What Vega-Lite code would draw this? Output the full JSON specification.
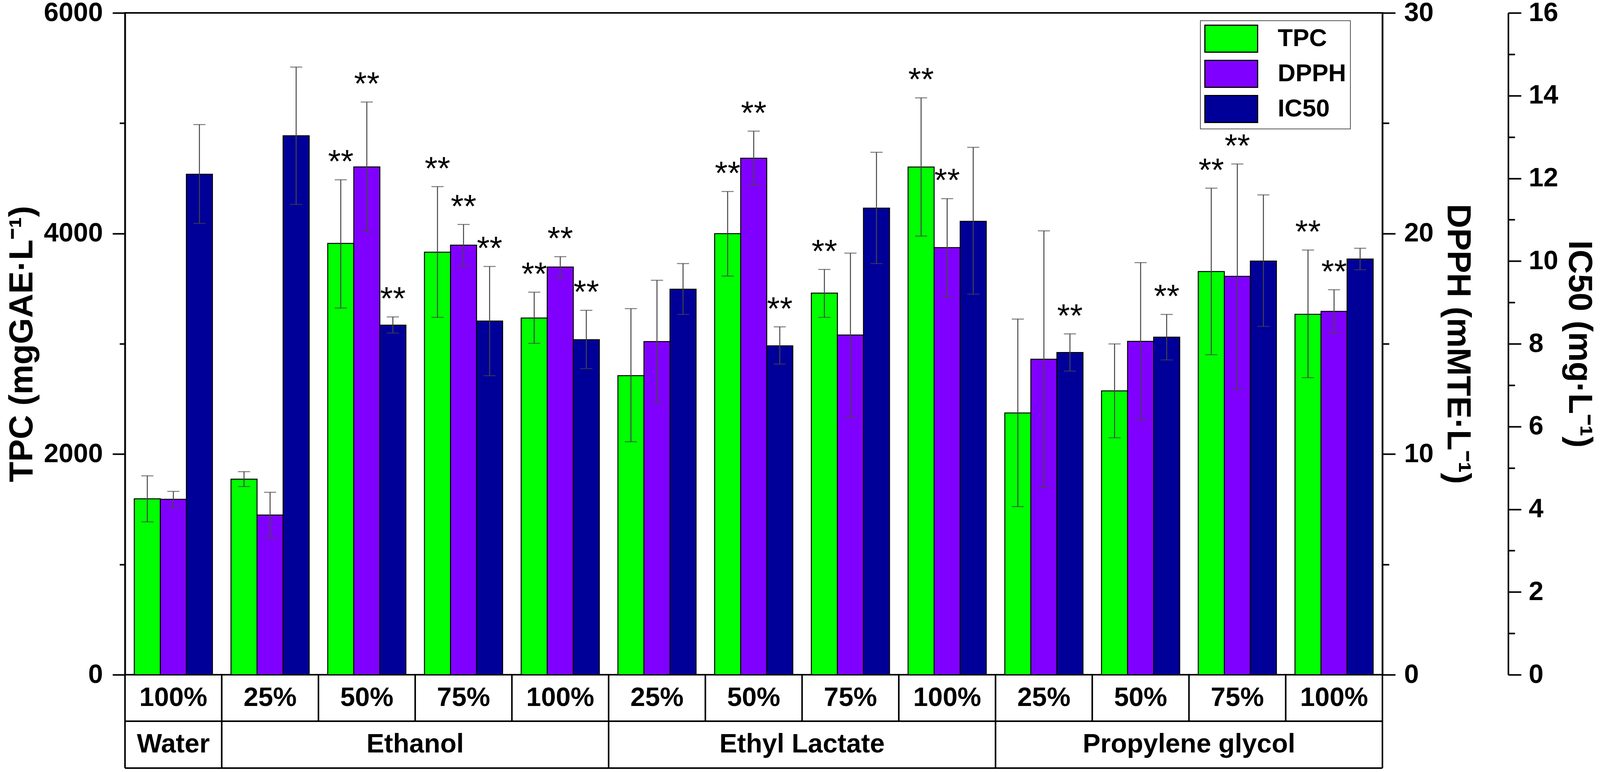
{
  "$schema": "https://vega.github.io/schema/vega-lite/v6.json",
  "width": 3219,
  "height": 1694,
  "autosize": {"type": "none"},
  "padding": {"left": 320, "top": 33, "right": 561, "bottom": 249},
  "background": "white",
  "config": {
    "view": {"stroke": "black", "strokeWidth": 4},
    "font": "Liberation Sans",
    "axis": {
      "domainColor": "black", "domainWidth": 4, "tickColor": "black", "tickWidth": 4,
      "labelFont": "Liberation Sans", "labelFontWeight": "bold", "labelFontSize": 68, "labelColor": "black",
      "titleFont": "Liberation Sans", "titleFontWeight": "bold", "titleFontSize": 86, "titleColor": "black",
      "grid": false, "labelOverlap": false, "labelFlush": false
    },
    "legend": {"strokeWidth": 2}
  },
  "data": {"values": [
    {"grp": "Water 100%", "solvent": "Water", "pct": "100%", "series": "TPC", "value": 1595, "lo": 1386, "hi": 1803, "sig": ""},
    {"grp": "Water 100%", "solvent": "Water", "pct": "100%", "series": "DPPH", "value": 7.95, "lo": 7.57, "hi": 8.31, "sig": ""},
    {"grp": "Water 100%", "solvent": "Water", "pct": "100%", "series": "IC50", "value": 12.10, "lo": 10.91, "hi": 13.30, "sig": ""},
    {"grp": "Ethanol 25%", "solvent": "Ethanol", "pct": "25%", "series": "TPC", "value": 1773, "lo": 1706, "hi": 1841, "sig": ""},
    {"grp": "Ethanol 25%", "solvent": "Ethanol", "pct": "25%", "series": "DPPH", "value": 7.24, "lo": 6.21, "hi": 8.27, "sig": ""},
    {"grp": "Ethanol 25%", "solvent": "Ethanol", "pct": "25%", "series": "IC50", "value": 13.03, "lo": 11.37, "hi": 14.69, "sig": ""},
    {"grp": "Ethanol 50%", "solvent": "Ethanol", "pct": "50%", "series": "TPC", "value": 3910, "lo": 3324, "hi": 4487, "sig": "**"},
    {"grp": "Ethanol 50%", "solvent": "Ethanol", "pct": "50%", "series": "DPPH", "value": 23.02, "lo": 20.09, "hi": 25.96, "sig": "**"},
    {"grp": "Ethanol 50%", "solvent": "Ethanol", "pct": "50%", "series": "IC50", "value": 8.45, "lo": 8.26, "hi": 8.65, "sig": "**"},
    {"grp": "Ethanol 75%", "solvent": "Ethanol", "pct": "75%", "series": "TPC", "value": 3831, "lo": 3240, "hi": 4425, "sig": "**"},
    {"grp": "Ethanol 75%", "solvent": "Ethanol", "pct": "75%", "series": "DPPH", "value": 19.47, "lo": 18.52, "hi": 20.41, "sig": "**"},
    {"grp": "Ethanol 75%", "solvent": "Ethanol", "pct": "75%", "series": "IC50", "value": 8.55, "lo": 7.23, "hi": 9.87, "sig": "**"},
    {"grp": "Ethanol 100%", "solvent": "Ethanol", "pct": "100%", "series": "TPC", "value": 3234, "lo": 3004, "hi": 3468, "sig": "**"},
    {"grp": "Ethanol 100%", "solvent": "Ethanol", "pct": "100%", "series": "DPPH", "value": 18.48, "lo": 18.00, "hi": 18.95, "sig": "**"},
    {"grp": "Ethanol 100%", "solvent": "Ethanol", "pct": "100%", "series": "IC50", "value": 8.10, "lo": 7.40, "hi": 8.81, "sig": "**"},
    {"grp": "Ethyl Lactate 25%", "solvent": "Ethyl Lactate", "pct": "25%", "series": "TPC", "value": 2711, "lo": 2112, "hi": 3319, "sig": ""},
    {"grp": "Ethyl Lactate 25%", "solvent": "Ethyl Lactate", "pct": "25%", "series": "DPPH", "value": 15.10, "lo": 12.34, "hi": 17.88, "sig": ""},
    {"grp": "Ethyl Lactate 25%", "solvent": "Ethyl Lactate", "pct": "25%", "series": "IC50", "value": 9.32, "lo": 8.71, "hi": 9.94, "sig": ""},
    {"grp": "Ethyl Lactate 50%", "solvent": "Ethyl Lactate", "pct": "50%", "series": "TPC", "value": 3999, "lo": 3614, "hi": 4381, "sig": "**"},
    {"grp": "Ethyl Lactate 50%", "solvent": "Ethyl Lactate", "pct": "50%", "series": "DPPH", "value": 23.41, "lo": 22.20, "hi": 24.64, "sig": "**"},
    {"grp": "Ethyl Lactate 50%", "solvent": "Ethyl Lactate", "pct": "50%", "series": "IC50", "value": 7.95, "lo": 7.51, "hi": 8.41, "sig": "**"},
    {"grp": "Ethyl Lactate 75%", "solvent": "Ethyl Lactate", "pct": "75%", "series": "TPC", "value": 3460, "lo": 3240, "hi": 3674, "sig": "**"},
    {"grp": "Ethyl Lactate 75%", "solvent": "Ethyl Lactate", "pct": "75%", "series": "DPPH", "value": 15.40, "lo": 11.66, "hi": 19.11, "sig": ""},
    {"grp": "Ethyl Lactate 75%", "solvent": "Ethyl Lactate", "pct": "75%", "series": "IC50", "value": 11.28, "lo": 9.94, "hi": 12.63, "sig": ""},
    {"grp": "Ethyl Lactate 100%", "solvent": "Ethyl Lactate", "pct": "100%", "series": "TPC", "value": 4603, "lo": 3977, "hi": 5230, "sig": "**"},
    {"grp": "Ethyl Lactate 100%", "solvent": "Ethyl Lactate", "pct": "100%", "series": "DPPH", "value": 19.36, "lo": 17.11, "hi": 21.58, "sig": "**"},
    {"grp": "Ethyl Lactate 100%", "solvent": "Ethyl Lactate", "pct": "100%", "series": "IC50", "value": 10.96, "lo": 9.20, "hi": 12.75, "sig": ""},
    {"grp": "Propylene glycol 25%", "solvent": "Propylene glycol", "pct": "25%", "series": "TPC", "value": 2373, "lo": 1524, "hi": 3224, "sig": ""},
    {"grp": "Propylene glycol 25%", "solvent": "Propylene glycol", "pct": "25%", "series": "DPPH", "value": 14.30, "lo": 8.49, "hi": 20.12, "sig": ""},
    {"grp": "Propylene glycol 25%", "solvent": "Propylene glycol", "pct": "25%", "series": "IC50", "value": 7.79, "lo": 7.34, "hi": 8.24, "sig": "**"},
    {"grp": "Propylene glycol 50%", "solvent": "Propylene glycol", "pct": "50%", "series": "TPC", "value": 2573, "lo": 2148, "hi": 2999, "sig": ""},
    {"grp": "Propylene glycol 50%", "solvent": "Propylene glycol", "pct": "50%", "series": "DPPH", "value": 15.11, "lo": 11.55, "hi": 18.68, "sig": ""},
    {"grp": "Propylene glycol 50%", "solvent": "Propylene glycol", "pct": "50%", "series": "IC50", "value": 8.16, "lo": 7.61, "hi": 8.71, "sig": "**"},
    {"grp": "Propylene glycol 75%", "solvent": "Propylene glycol", "pct": "75%", "series": "TPC", "value": 3655, "lo": 2901, "hi": 4411, "sig": "**"},
    {"grp": "Propylene glycol 75%", "solvent": "Propylene glycol", "pct": "75%", "series": "DPPH", "value": 18.06, "lo": 12.93, "hi": 23.15, "sig": "**"},
    {"grp": "Propylene glycol 75%", "solvent": "Propylene glycol", "pct": "75%", "series": "IC50", "value": 10.00, "lo": 8.42, "hi": 11.60, "sig": ""},
    {"grp": "Propylene glycol 100%", "solvent": "Propylene glycol", "pct": "100%", "series": "TPC", "value": 3267, "lo": 2693, "hi": 3850, "sig": "**"},
    {"grp": "Propylene glycol 100%", "solvent": "Propylene glycol", "pct": "100%", "series": "DPPH", "value": 16.47, "lo": 15.48, "hi": 17.45, "sig": "**"},
    {"grp": "Propylene glycol 100%", "solvent": "Propylene glycol", "pct": "100%", "series": "IC50", "value": 10.05, "lo": 9.79, "hi": 10.31, "sig": ""}
  ]},
  "layer": [
    {
      "transform": [{"filter": "datum.series === 'TPC'"}],
      "layer": [
        {
          "mark": {"type": "bar", "stroke": "black", "strokeWidth": 2.5},
          "encoding": {
            "x": {"field": "grp", "type": "nominal", "sort": null, "axis": null, "scale": {"paddingInner": 0, "paddingOuter": 0}},
            "xOffset": {"field": "series", "type": "nominal", "sort": ["TPC", "DPPH", "IC50"], "scale": {"domain": ["TPC", "DPPH", "IC50"], "paddingInner": 0, "paddingOuter": 0.356}},
            "y": {"field": "value", "type": "quantitative", "stack": null, "scale": {"domain": [0, 6000], "nice": false},
              "axis": {"orient": "left", "title": "TPC (mgGAE·L⁻¹)", "values": [0, 1000, 2000, 3000, 4000, 5000, 6000],
                "labelExpr": "datum.value % 2000 === 0 ? '' + datum.value : ''",
                "tickSize": {"condition": {"test": "datum.value % 2000 === 0", "value": 32}, "value": 14},
                "labelPadding": 25, "titlePadding": 20}},
            "color": {"field": "series", "type": "nominal",
              "scale": {"domain": ["TPC", "DPPH", "IC50"], "range": ["#00FF00", "#8000FF", "#000099"]},
              "legend": {"title": null, "orient": "none", "legendX": 2753, "legendY": 20, "direction": "vertical",
                "padding": 10, "strokeColor": "#555555", "fillColor": "white",
                "symbolType": "M-1.957,-1H1.957V1H-1.957Z", "symbolSize": 4761, "symbolOffset": 33, "symbolStrokeColor": "black", "symbolStrokeWidth": 3, "symbolOpacity": 1,
                "labelFontSize": 63, "labelFont": "Liberation Sans", "labelFontWeight": "bold", "labelColor": "black",
                "labelOffset": 83, "rowPadding": 8, "labelLimit": 400}}
          }
        },
        {
          "mark": {"type": "rule", "color": "#444444", "strokeWidth": 2.5},
          "encoding": {
            "x": {"field": "grp", "type": "nominal", "sort": null, "axis": null},
            "xOffset": {"field": "series", "type": "nominal", "sort": ["TPC", "DPPH", "IC50"]},
            "y": {"field": "lo", "type": "quantitative", "scale": {"domain": [0, 6000], "nice": false}},
            "y2": {"field": "hi"}
          }
        },
        {
          "mark": {"type": "tick", "color": "#444444", "thickness": 2.5, "size": 31},
          "encoding": {
            "x": {"field": "grp", "type": "nominal", "sort": null, "axis": null},
            "xOffset": {"field": "series", "type": "nominal", "sort": ["TPC", "DPPH", "IC50"]},
            "y": {"field": "lo", "type": "quantitative", "scale": {"domain": [0, 6000], "nice": false}}
          }
        },
        {
          "mark": {"type": "tick", "color": "#444444", "thickness": 2.5, "size": 31},
          "encoding": {
            "x": {"field": "grp", "type": "nominal", "sort": null, "axis": null},
            "xOffset": {"field": "series", "type": "nominal", "sort": ["TPC", "DPPH", "IC50"]},
            "y": {"field": "hi", "type": "quantitative", "scale": {"domain": [0, 6000], "nice": false}}
          }
        },
        {
          "transform": [{"filter": "datum.sig === '**'"}],
          "mark": {"type": "text", "fontSize": 84, "dy": -18, "baseline": "alphabetic", "align": "center", "font": "Liberation Sans", "color": "black"},
          "encoding": {
            "x": {"field": "grp", "type": "nominal", "sort": null, "axis": null},
            "xOffset": {"field": "series", "type": "nominal", "sort": ["TPC", "DPPH", "IC50"]},
            "y": {"field": "hi", "type": "quantitative", "scale": {"domain": [0, 6000], "nice": false}},
            "text": {"field": "sig"}
          }
        },
        {
          "mark": {"type": "rule", "color": "black", "strokeWidth": 4},
          "encoding": {
            "x": {"field": "grp", "type": "nominal", "sort": null, "axis": null, "bandPosition": 0},
            "y": {"datum": 0, "type": "quantitative", "scale": {"domain": [0, 6000], "nice": false}},
            "y2": {"datum": -421.5}
          }
        },
        {
          "transform": [{"filter": "datum.pct === '25%' || datum.solvent === 'Water'"}],
          "mark": {"type": "rule", "color": "black", "strokeWidth": 4},
          "encoding": {
            "x": {"field": "grp", "type": "nominal", "sort": null, "axis": null, "bandPosition": 0},
            "y": {"datum": -421.5, "type": "quantitative", "scale": {"domain": [0, 6000], "nice": false}},
            "y2": {"datum": -846.5}
          }
        },
        {
          "transform": [{"filter": "datum.grp === 'Propylene glycol 100%'"}],
          "mark": {"type": "rule", "color": "black", "strokeWidth": 4},
          "encoding": {
            "x": {"field": "grp", "type": "nominal", "sort": null, "axis": null, "bandPosition": 1},
            "y": {"datum": 0, "type": "quantitative", "scale": {"domain": [0, 6000], "nice": false}},
            "y2": {"datum": -846.5}
          }
        },
        {
          "mark": {"type": "rule", "color": "black", "strokeWidth": 4},
          "encoding": {
            "y": {"datum": -421.5, "type": "quantitative", "scale": {"domain": [0, 6000], "nice": false}}
          }
        },
        {
          "mark": {"type": "rule", "color": "black", "strokeWidth": 4},
          "encoding": {
            "y": {"datum": -846.5, "type": "quantitative", "scale": {"domain": [0, 6000], "nice": false}}
          }
        },
        {
          "mark": {"type": "text", "fontSize": 68, "fontWeight": "bold", "font": "Liberation Sans", "baseline": "middle", "align": "center", "color": "black"},
          "encoding": {
            "x": {"field": "grp", "type": "nominal", "sort": null, "axis": null},
            "y": {"datum": -211, "type": "quantitative", "scale": {"domain": [0, 6000], "nice": false}},
            "text": {"field": "pct"}
          }
        },
        {
          "transform": [{"filter": "datum.solvent === 'Water'"}],
          "mark": {"type": "text", "fontSize": 68, "fontWeight": "bold", "font": "Liberation Sans", "baseline": "middle", "align": "center", "color": "black"},
          "encoding": {
            "x": {"field": "grp", "type": "nominal", "sort": null, "axis": null},
            "y": {"datum": -634, "type": "quantitative", "scale": {"domain": [0, 6000], "nice": false}},
            "text": {"field": "solvent"}
          }
        },
        {
          "transform": [{"filter": "datum.solvent !== 'Water' && datum.pct === '75%'"}],
          "mark": {"type": "text", "fontSize": 68, "fontWeight": "bold", "font": "Liberation Sans", "baseline": "middle", "align": "center", "color": "black"},
          "encoding": {
            "x": {"field": "grp", "type": "nominal", "sort": null, "axis": null, "bandPosition": 0},
            "y": {"datum": -634, "type": "quantitative", "scale": {"domain": [0, 6000], "nice": false}},
            "text": {"field": "solvent"}
          }
        }
      ]
    },
    {
      "transform": [{"filter": "datum.series === 'DPPH'"}],
      "layer": [
        {
          "mark": {"type": "bar", "stroke": "black", "strokeWidth": 2.5},
          "encoding": {
            "x": {"field": "grp", "type": "nominal", "sort": null, "axis": null},
            "xOffset": {"field": "series", "type": "nominal", "sort": ["TPC", "DPPH", "IC50"]},
            "y": {"field": "value", "type": "quantitative", "stack": null, "scale": {"domain": [0, 30], "nice": false},
              "axis": {"orient": "right", "title": "DPPH (mMTE·L⁻¹)", "values": [0, 5, 10, 15, 20, 25, 30],
                "labelExpr": "datum.value % 10 === 0 ? '' + datum.value : ''",
                "tickSize": {"condition": {"test": "datum.value % 10 === 0", "value": 33}, "value": 17},
                "labelPadding": 22, "titlePadding": 18}},
            "color": {"field": "series", "type": "nominal", "legend": null}
          }
        },
        {
          "mark": {"type": "rule", "color": "#444444", "strokeWidth": 2.5},
          "encoding": {
            "x": {"field": "grp", "type": "nominal", "sort": null, "axis": null},
            "xOffset": {"field": "series", "type": "nominal", "sort": ["TPC", "DPPH", "IC50"]},
            "y": {"field": "lo", "type": "quantitative", "scale": {"domain": [0, 30], "nice": false}},
            "y2": {"field": "hi"}
          }
        },
        {
          "mark": {"type": "tick", "color": "#444444", "thickness": 2.5, "size": 31},
          "encoding": {
            "x": {"field": "grp", "type": "nominal", "sort": null, "axis": null},
            "xOffset": {"field": "series", "type": "nominal", "sort": ["TPC", "DPPH", "IC50"]},
            "y": {"field": "lo", "type": "quantitative", "scale": {"domain": [0, 30], "nice": false}}
          }
        },
        {
          "mark": {"type": "tick", "color": "#444444", "thickness": 2.5, "size": 31},
          "encoding": {
            "x": {"field": "grp", "type": "nominal", "sort": null, "axis": null},
            "xOffset": {"field": "series", "type": "nominal", "sort": ["TPC", "DPPH", "IC50"]},
            "y": {"field": "hi", "type": "quantitative", "scale": {"domain": [0, 30], "nice": false}}
          }
        },
        {
          "transform": [{"filter": "datum.sig === '**'"}],
          "mark": {"type": "text", "fontSize": 84, "dy": -18, "baseline": "alphabetic", "align": "center", "font": "Liberation Sans", "color": "black"},
          "encoding": {
            "x": {"field": "grp", "type": "nominal", "sort": null, "axis": null},
            "xOffset": {"field": "series", "type": "nominal", "sort": ["TPC", "DPPH", "IC50"]},
            "y": {"field": "hi", "type": "quantitative", "scale": {"domain": [0, 30], "nice": false}},
            "text": {"field": "sig"}
          }
        }
      ]
    },
    {
      "transform": [{"filter": "datum.series === 'IC50'"}],
      "layer": [
        {
          "mark": {"type": "bar", "stroke": "black", "strokeWidth": 2.5},
          "encoding": {
            "x": {"field": "grp", "type": "nominal", "sort": null, "axis": null},
            "xOffset": {"field": "series", "type": "nominal", "sort": ["TPC", "DPPH", "IC50"]},
            "y": {"field": "value", "type": "quantitative", "stack": null, "scale": {"domain": [0, 16], "nice": false},
              "axis": {"orient": "right", "offset": 322, "title": "IC50 (mg·L⁻¹)", "values": [0, 1, 2, 3, 4, 5, 6, 7, 8, 9, 10, 11, 12, 13, 14, 15, 16],
                "labelExpr": "datum.value % 2 === 0 ? '' + datum.value : ''",
                "tickSize": {"condition": {"test": "datum.value % 2 === 0", "value": 33}, "value": 17},
                "labelPadding": 19, "titlePadding": 10}},
            "color": {"field": "series", "type": "nominal", "legend": null}
          }
        },
        {
          "mark": {"type": "rule", "color": "#444444", "strokeWidth": 2.5},
          "encoding": {
            "x": {"field": "grp", "type": "nominal", "sort": null, "axis": null},
            "xOffset": {"field": "series", "type": "nominal", "sort": ["TPC", "DPPH", "IC50"]},
            "y": {"field": "lo", "type": "quantitative", "scale": {"domain": [0, 16], "nice": false}},
            "y2": {"field": "hi"}
          }
        },
        {
          "mark": {"type": "tick", "color": "#444444", "thickness": 2.5, "size": 31},
          "encoding": {
            "x": {"field": "grp", "type": "nominal", "sort": null, "axis": null},
            "xOffset": {"field": "series", "type": "nominal", "sort": ["TPC", "DPPH", "IC50"]},
            "y": {"field": "lo", "type": "quantitative", "scale": {"domain": [0, 16], "nice": false}}
          }
        },
        {
          "mark": {"type": "tick", "color": "#444444", "thickness": 2.5, "size": 31},
          "encoding": {
            "x": {"field": "grp", "type": "nominal", "sort": null, "axis": null},
            "xOffset": {"field": "series", "type": "nominal", "sort": ["TPC", "DPPH", "IC50"]},
            "y": {"field": "hi", "type": "quantitative", "scale": {"domain": [0, 16], "nice": false}}
          }
        },
        {
          "transform": [{"filter": "datum.sig === '**'"}],
          "mark": {"type": "text", "fontSize": 84, "dy": -18, "baseline": "alphabetic", "align": "center", "font": "Liberation Sans", "color": "black"},
          "encoding": {
            "x": {"field": "grp", "type": "nominal", "sort": null, "axis": null},
            "xOffset": {"field": "series", "type": "nominal", "sort": ["TPC", "DPPH", "IC50"]},
            "y": {"field": "hi", "type": "quantitative", "scale": {"domain": [0, 16], "nice": false}},
            "text": {"field": "sig"}
          }
        }
      ]
    }
  ],
  "resolve": {"scale": {"y": "independent"}, "axis": {"y": "independent"}}
}
